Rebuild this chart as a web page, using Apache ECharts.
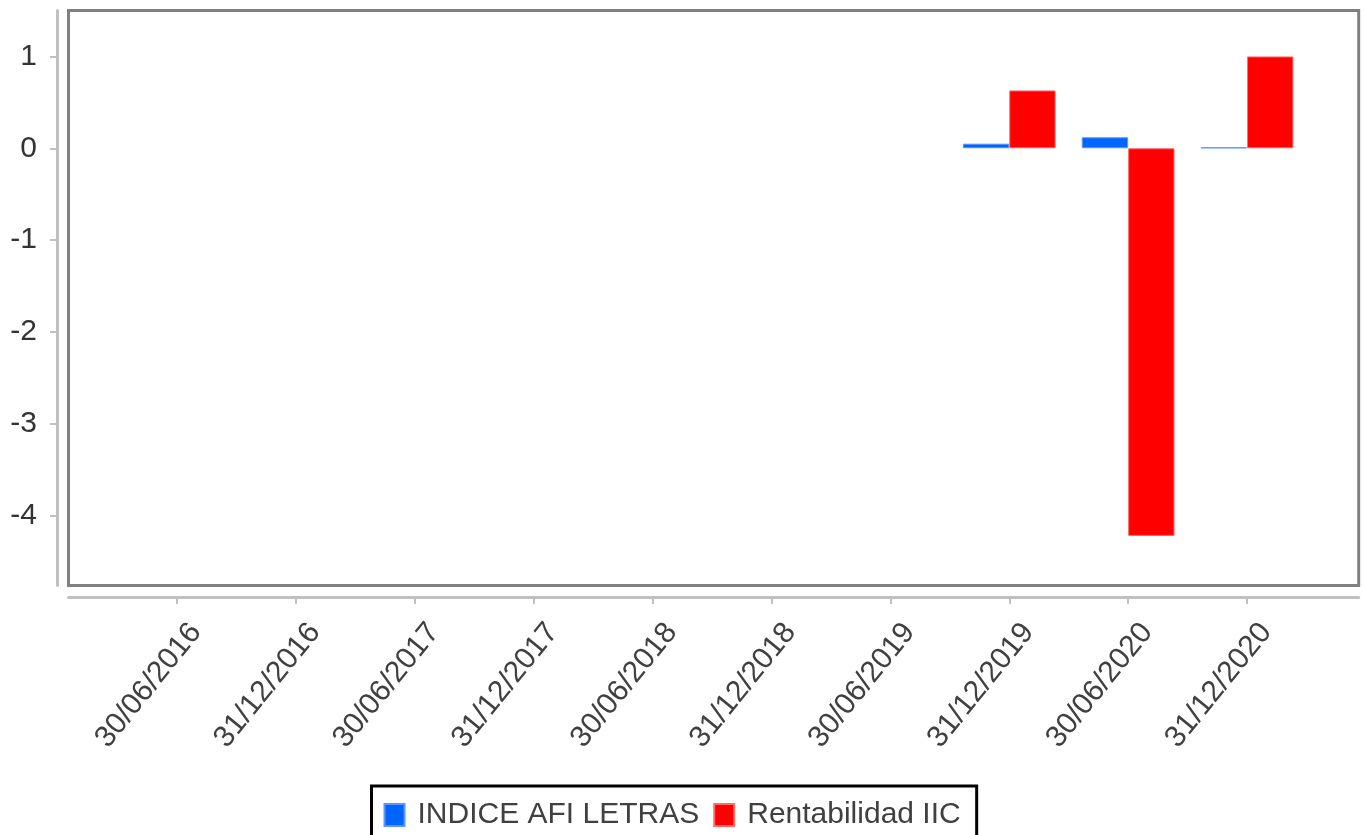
<!DOCTYPE html>
<html>
<head>
<meta charset="utf-8">
<script src="https://cdn.jsdelivr.net/npm/echarts@6/dist/echarts.min.js"></script>
<style>
html,body{margin:0;padding:0;background:#fff;}
#chart{width:1365px;height:835px;}
</style>
</head>
<body>
<div id="chart"></div>
<script>
const categories = ['30/06/2016','31/12/2016','30/06/2017','31/12/2017','30/06/2018','31/12/2018','30/06/2019','31/12/2019','30/06/2020','31/12/2020'];
const indiceAfiLetras = [null,null,null,null,null,null,null,0.05,0.12,0.01];
const rentabilidadIIC = [null,null,null,null,null,null,null,0.63,-4.22,1.00];
const yTicks = [-4,-3,-2,-1,0,1];
const yMin = -4.76, yMax = 1.5;

const chart = echarts.init(document.getElementById('chart'));
const FONT = 'Liberation Sans';
chart.setOption({
  animation: false,
  textStyle: {fontFamily: FONT},
  grid: [
    {left: 68.5, top: 10.5, right: 6.3, bottom: 249.5, show: true, borderColor: '#808080', borderWidth: 3, backgroundColor: 'transparent'},
    {left: 117.5, top: 10.5, width: 1189, bottom: 249.5},
    {left: 136.5, top: 10.5, width: 1189, bottom: 249.5}
  ],
  xAxis: [
    {gridIndex: 0, type: 'value', min: 0, max: 1, offset: 11.5,
     axisLine: {show: true, onZero: false, lineStyle: {color: '#c0c0c0', width: 3}},
     axisTick: {show: false}, axisLabel: {show: false}, splitLine: {show: false}},
    {gridIndex: 1, type: 'category', data: categories, offset: 11.5,
     axisLine: {show: false, onZero: false},
     axisTick: {show: true, alignWithLabel: true, length: 7, lineStyle: {color: '#c0c0c0', width: 2}},
     axisLabel: {show: false}},
    {gridIndex: 2, type: 'category', data: categories, offset: 11.5,
     axisLine: {show: false, onZero: false}, axisTick: {show: false},
     axisLabel: {show: true, interval: 0, rotate: 51, margin: 30, fontSize: 30, color: '#404040', fontFamily: FONT}}
  ],
  yAxis: [
    {gridIndex: 0, type: 'value', min: 0, max: 1, show: false},
    {gridIndex: 1, type: 'value', min: yMin, max: yMax, offset: 60.5,
     axisLine: {show: true, lineStyle: {color: '#c0c0c0', width: 3}},
     axisTick: {show: true, length: 7, customValues: yTicks, lineStyle: {color: '#c0c0c0', width: 2}},
     axisLabel: {show: true, customValues: yTicks, margin: 20, fontSize: 30, color: '#333333', fontFamily: FONT},
     splitLine: {show: false}},
    {gridIndex: 2, type: 'value', min: yMin, max: yMax, show: false}
  ],
  legend: {
    left: 371.5, top: 786, orient: 'horizontal',
    borderColor: '#000', borderWidth: 3, padding: [14, 16, 14, 12],
    itemWidth: 20, itemHeight: 22, itemGap: 14, icon: 'rect',
    textStyle: {fontSize: 30, color: '#404040', fontFamily: FONT, padding: [0, 0, 0, 8]},
    data: ['INDICE AFI LETRAS', 'Rentabilidad IIC']
  },
  series: [
    {type: 'bar', name: 'INDICE AFI LETRAS', xAxisIndex: 1, yAxisIndex: 1, data: indiceAfiLetras,
     barGap: '0%', barCategoryGap: '22%',
     itemStyle: {color: '#0064ff', borderColor: '#5a96ff', borderWidth: 1}},
    {type: 'bar', name: 'Rentabilidad IIC', xAxisIndex: 1, yAxisIndex: 1, data: rentabilidadIIC,
     barGap: '0%', barCategoryGap: '22%',
     itemStyle: {color: '#ff0000', borderColor: '#ff6a6a', borderWidth: 1}}
  ]
});
</script>
</body>
</html>
